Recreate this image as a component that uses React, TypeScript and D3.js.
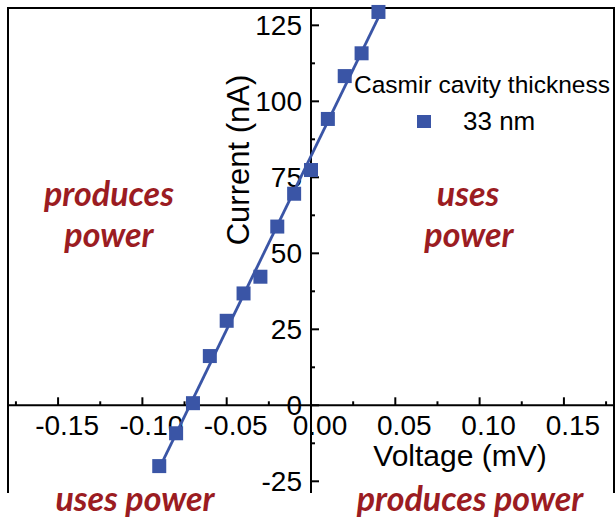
import React from "react";
import * as d3 from "d3";

const VOLTAGE = [-0.09, -0.08, -0.07, -0.06, -0.05, -0.04, -0.03, -0.02, -0.01, 0.0, 0.01, 0.02, 0.03, 0.04];
const CURRENT = [-20.0, -9.2, 0.7, 16.2, 27.8, 36.8, 42.3, 58.8, 69.6, 77.4, 94.2, 108.3, 115.8, 129.4];
const X_TICKS = [-0.15, -0.1, -0.05, 0.0, 0.05, 0.1, 0.15];
const X_TICK_LABELS = ["-0.15", "-0.10", "-0.05", "0.00", "0.05", "0.10", "0.15"];
const X_MINOR = [-0.175, -0.125, -0.075, -0.025, 0.025, 0.075, 0.125, 0.175];
const Y_TICKS = [-25, 0, 25, 50, 75, 100, 125];
const Y_MINOR = [-12.5, 12.5, 37.5, 62.5, 87.5, 112.5];
const SERIES_NAME = "33 nm";
const LEGEND_TITLE = "Casmir cavity thickness";
const X_TITLE = "Voltage (mV)";
const Y_TITLE = "Current (nA)";

const W = 615;
const H = 520;
const LEFT = 8;
const RIGHT = 614;
const TOP = 8;
const BOTTOM = 493;
const BLUE = "#3a55a6";
const RED = "#9b1c22";
const FONT = "'Liberation Sans', Arial, sans-serif";
const ANNO_FONT = "Lato, 'Open Sans', sans-serif";

export default function App() {
  const x = d3.scaleLinear().domain([-0.1797, 0.1797]).range([LEFT, RIGHT]);
  const y = d3.scaleLinear().domain([-28.85, 130.7]).range([BOTTOM, TOP]);
  const x0 = x(0);
  const y0 = y(0);

  // least squares fit
  const mx = d3.mean(VOLTAGE) as number;
  const my = d3.mean(CURRENT) as number;
  let sxy = 0, sxx = 0;
  VOLTAGE.forEach((v, i) => {
    sxy += (v - mx) * (CURRENT[i] - my);
    sxx += (v - mx) * (v - mx);
  });
  const slope = sxy / sxx;
  const icpt = my - slope * mx;
  const vExt = d3.extent(VOLTAGE) as [number, number];
  const fitPts: [number, number][] = [vExt[0], vExt[1]].map((v) => [x(v), y(icpt + slope * v)]);
  const lineGen = d3.line();

  const ms = 14;

  return (
    <svg width={W} height={H} style={{ position: "absolute", left: 0, top: 0, background: "#fff" }}>
      {/* frame */}
      <path d={`M${LEFT},${BOTTOM} V${TOP} H${RIGHT} V${BOTTOM}`} fill="none" stroke="#000" strokeWidth={2} />
      {/* axes */}
      <line x1={LEFT} x2={RIGHT} y1={y0} y2={y0} stroke="#000" strokeWidth={2} />
      <line x1={x0} x2={x0} y1={TOP} y2={BOTTOM} stroke="#000" strokeWidth={2} />
      {X_TICKS.map((t) => (
        <line key={"xt" + t} x1={x(t)} x2={x(t)} y1={y0} y2={y0 - 8} stroke="#000" strokeWidth={2} />
      ))}
      {X_MINOR.map((t) => (
        <line key={"xm" + t} x1={x(t)} x2={x(t)} y1={y0} y2={y0 - 4} stroke="#000" strokeWidth={2} />
      ))}
      {Y_TICKS.map((t) => (
        <line key={"yt" + t} x1={x0} x2={x0 + 8} y1={y(t)} y2={y(t)} stroke="#000" strokeWidth={2} />
      ))}
      {Y_MINOR.map((t) => (
        <line key={"ym" + t} x1={x0} x2={x0 + 4} y1={y(t)} y2={y(t)} stroke="#000" strokeWidth={2} />
      ))}
      {X_TICKS.map((t, i) => (
        <text key={"xl" + t} x={x(t) + 9} y={y0 + 30} textAnchor="middle" fontFamily={FONT} fontSize={28} fill="#000">
          {X_TICK_LABELS[i]}
        </text>
      ))}
      {Y_TICKS.map((t) => (
        <text key={"yl" + t} x={x0 - 9} y={y(t) + 10} textAnchor="end" fontFamily={FONT} fontSize={28} fill="#000">
          {String(t)}
        </text>
      ))}
      <text x={460} y={466} textAnchor="middle" fontFamily={FONT} fontSize={30} fill="#000">
        {X_TITLE}
      </text>
      <text
        transform={`translate(249,160) rotate(-90)`}
        textAnchor="middle"
        fontFamily={FONT}
        fontSize={31}
        fill="#000"
      >
        {Y_TITLE}
      </text>
      {/* fit line */}
      <path d={lineGen(fitPts) || ""} stroke={BLUE} strokeWidth={2.8} fill="none" />
      {VOLTAGE.map((v, i) => (
        <rect key={"m" + i} x={x(v) - ms / 2} y={y(CURRENT[i]) - ms / 2} width={ms} height={ms} fill={BLUE} />
      ))}
      {/* legend */}
      <text x={354} y={93} fontFamily={FONT} fontSize={24.5} fill="#000">
        {LEGEND_TITLE}
      </text>
      <rect x={424 - 7} y={122 - 7} width={14} height={13} fill={BLUE} />
      <text x={463} y={130} fontFamily={FONT} fontSize={26} fill="#000">
        {SERIES_NAME}
      </text>
      {/* annotations */}
      <g fontFamily={ANNO_FONT} fontWeight={700} fontStyle="italic" fontSize={34} fill={RED} textAnchor="middle">
        <text x={109} y={206}>produces</text>
        <text x={109} y={247}>power</text>
        <text x={468} y={206}>uses</text>
        <text x={469} y={247}>power</text>
        <text x={135} y={511}>uses power</text>
        <text x={470} y={511}>produces power</text>
      </g>
    </svg>
  );
}
